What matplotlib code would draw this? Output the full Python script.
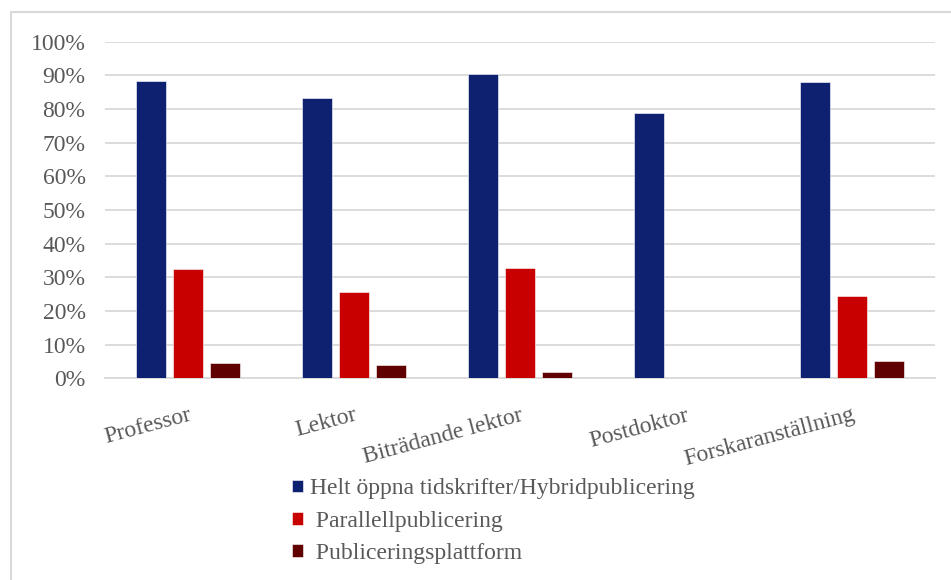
import matplotlib
matplotlib.use("Agg")
import matplotlib.pyplot as plt
import numpy as np
from matplotlib.patches import Rectangle

categories = ["Professor", "Lektor", "Biträdande lektor", "Postdoktor", "Forskaranställning"]
series_names = ["Helt öppna tidskrifter/Hybridpublicering", " Parallellpublicering", " Publiceringsplattform"]
helt_oppna = [88.2, 83.2, 90.5, 78.7, 87.9]
parallell = [32.4, 25.7, 32.7, 0.0, 24.4]
plattform = [4.5, 4.0, 1.8, 0.0, 5.2]
colors = ["#0D2170", "#C80000", "#600000"]
yticks = [0, 10, 20, 30, 40, 50, 60, 70, 80, 90, 100]

plt.rcParams['font.family'] = ['Liberation Serif', 'DejaVu Serif']
W, H = 951, 580
fig = plt.figure(figsize=(W / 100, H / 100), dpi=100)
ax = fig.add_axes([105 / W, 1 - 378.3 / H, (935 - 105) / W, (378.3 - 41.7) / H])

x = np.arange(len(categories))
bw = 0.178
step = 0.223
handles = []
for i, vals in enumerate([helt_oppna, parallell, plattform]):
    b = ax.bar(x + (i - 1) * step, vals, width=bw, color=colors[i],
               edgecolor="white", linewidth=0.4, zorder=3, label=series_names[i])
    handles.append(b)

ax.set_xlim(-0.5, len(categories) - 0.5)
ax.set_ylim(0, 100)
ax.set_yticks(yticks)
ax.set_yticklabels([f"{v}%" for v in yticks])
ax.yaxis.grid(True, color="#d9d9d9", linewidth=1.3, zorder=0)
ax.set_axisbelow(True)
for s in ["top", "right", "left"]:
    ax.spines[s].set_visible(False)
ax.spines["bottom"].set_color("#d9d9d9")
ax.spines["bottom"].set_linewidth(1.3)
ax.tick_params(axis="both", length=0, colors="#595959", labelsize=17)
ax.tick_params(axis="y", pad=14)
ax.set_xticks(x)
ax.set_xticklabels(categories, rotation=15, ha="right", rotation_mode="anchor")
ax.tick_params(axis="x", pad=19)

leg = fig.legend(handles=handles, labels=series_names, loc="upper left",
                 bbox_to_anchor=(283 / W, 1 - 469 / H), frameon=False,
                 fontsize=17, labelcolor="#595959", handlelength=0.45,
                 handleheight=0.45, handletextpad=0.3, labelspacing=0.48,
                 borderaxespad=0)

fig.patches.append(Rectangle((11 / W, -0.1), 1.2, 1 - 12 / H + 0.1,
                             transform=fig.transFigure, fill=False,
                             edgecolor="#d9d9d9", linewidth=1.5))

fig.savefig("out.png", dpi=100)
